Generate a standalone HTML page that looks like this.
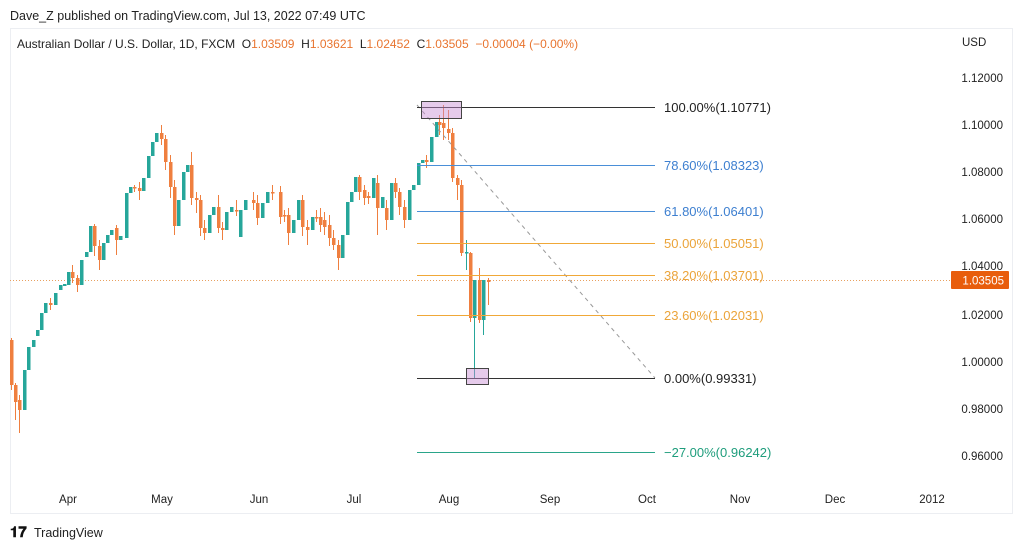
<!DOCTYPE html>
<html><head><meta charset="utf-8"><style>
body{margin:0;width:1024px;height:550px;background:#fff;overflow:hidden;font-family:"Liberation Sans","DejaVu Sans",sans-serif;}
svg{position:absolute;left:0;top:0}
</style></head><body>
<svg id="s" width="1024" height="550" xmlns="http://www.w3.org/2000/svg" font-family="Liberation Sans, DejaVu Sans, sans-serif">
<text x="10" y="20" font-size="12.5" fill="#222">Dave_Z published on TradingView.com, Jul 13, 2022 07:49 UTC</text>
<rect x="10.5" y="28.5" width="1002" height="485" fill="none" stroke="#eceef2"/>
<text x="17" y="48" font-size="12" fill="#222" xml:space="preserve">Australian Dollar / U.S. Dollar, 1D, FXCM  O<tspan fill="#e8742f">1.03509</tspan>  H<tspan fill="#e8742f">1.03621</tspan>  L<tspan fill="#e8742f">1.02452</tspan>  C<tspan fill="#e8742f">1.03505</tspan>  <tspan fill="#e8742f">−0.00004 (−0.00%)</tspan></text>
<text x="962" y="46" font-size="11.5" fill="#222">USD</text>
<g font-size="11.5" fill="#222" text-anchor="end">
<text x="1003" y="82">1.12000</text><text x="1003" y="129">1.10000</text><text x="1003" y="176">1.08000</text><text x="1003" y="223">1.06000</text><text x="1003" y="270">1.04000</text><text x="1003" y="319">1.02000</text><text x="1003" y="366">1.00000</text><text x="1003" y="413">0.98000</text><text x="1003" y="460">0.96000</text>
</g>
<g font-size="11.5" fill="#222" text-anchor="middle">
<text x="68" y="503">Apr</text><text x="162" y="503">May</text><text x="259" y="503">Jun</text><text x="354" y="503">Jul</text><text x="449" y="503">Aug</text><text x="550" y="503">Sep</text><text x="647" y="503">Oct</text><text x="740" y="503">Nov</text><text x="835" y="503">Dec</text><text x="932" y="503">2012</text>
</g>
<line x1="10" y1="280.5" x2="952" y2="280.5" stroke="#e8a060" stroke-dasharray="1,2"/>
<g id="c"></g>
<line x1="417" y1="105" x2="655" y2="378" stroke="#999" stroke-dasharray="4,4"/>
<g stroke-width="1">
<line x1="417" y1="107.5" x2="655" y2="107.5" stroke="#333"/>
<line x1="417" y1="165.5" x2="655" y2="165.5" stroke="#4a8fd8"/>
<line x1="417" y1="211.5" x2="655" y2="211.5" stroke="#4a8fd8"/>
<line x1="417" y1="243.5" x2="655" y2="243.5" stroke="#f0a838"/>
<line x1="417" y1="275.5" x2="655" y2="275.5" stroke="#f0a838"/>
<line x1="417" y1="315.5" x2="655" y2="315.5" stroke="#f0a838"/>
<line x1="417" y1="378.5" x2="655" y2="378.5" stroke="#333"/>
<line x1="417" y1="452.5" x2="655" y2="452.5" stroke="#2aa58a"/>
</g>
<rect x="421.5" y="101.5" width="40" height="17" fill="rgba(200,140,210,0.45)" stroke="#444"/>
<rect x="466.5" y="368.5" width="22" height="16" fill="rgba(200,140,210,0.45)" stroke="#444"/>
<g font-size="13">
<text x="664" y="112" fill="#222">100.00%(1.10771)</text>
<text x="664" y="170" fill="#3d7fd0">78.60%(1.08323)</text>
<text x="664" y="216" fill="#3d7fd0">61.80%(1.06401)</text>
<text x="664" y="248" fill="#eba43a">50.00%(1.05051)</text>
<text x="664" y="280" fill="#eba43a">38.20%(1.03701)</text>
<text x="664" y="320" fill="#eba43a">23.60%(1.02031)</text>
<text x="664" y="383" fill="#222">0.00%(0.99331)</text>
<text x="664" y="457" fill="#1e9d7c">−27.00%(0.96242)</text>
</g>
<rect x="951" y="271" width="58" height="18" fill="#e85d0c" rx="1"/>
<text x="1004" y="284.5" font-size="11.5" fill="#fff" text-anchor="end">1.03505</text>
<text x="10" y="537" font-size="15" font-weight="bold" fill="#111">𝟏𝟕</text>
<text x="34" y="537" font-size="12.5" fill="#222">TradingView</text>
</svg>
<script>
var d=[[11,340,385,338,390],[15,385,402,383,420],[19,400,410,395,433],[24,410,370,412,368],[28,370,347,372,345],[33,347,340,350,335],[37,336,330,340,322],[41,330,313,332,308],[45,313,303,318,298],[50,303,305,298,310],[55,305,293,310,290],[60,290,285,292,280],[64,286,284,288,282],[68,285,272,288,268],[72,272,278,265,283],[77,278,285,275,292],[81,285,260,287,255],[86,257,252,262,248],[90,252,226,255,222],[94,226,246,224,256],[99,246,260,240,270],[103,260,243,262,238],[107,243,235,246,230],[111,235,230,240,225],[116,228,240,225,255],[120,240,236,258,234],[126,238,193,240,190],[130,193,187,200,182],[134,187,188,185,192],[139,188,191,182,200],[143,191,178,200,172],[148,178,156,182,150],[152,156,142,160,136],[156,142,133,145,128],[161,133,139,125,145],[165,139,162,135,170],[170,162,187,155,198],[174,187,226,180,235],[178,226,200,228,172],[183,200,172,203,168],[187,172,165,178,158],[191,165,198,152,205],[196,198,200,192,213],[200,200,228,195,236],[204,228,233,220,240],[209,233,215,236,210],[213,215,207,220,200],[218,207,228,195,233],[222,228,230,222,240],[226,230,212,232,208],[231,212,207,215,200],[236,210,210,200,216],[240,237,210,240,205],[245,210,200,214,195],[253,200,203,192,210],[257,203,218,195,225],[262,218,203,220,198],[267,203,192,206,186],[272,192,193,185,200],[280,192,217,186,224],[284,215,215,210,222],[288,215,233,208,245],[293,233,220,236,212],[298,220,200,222,192],[302,200,227,195,236],[307,227,230,220,245],[312,230,217,235,212],[316,217,217,210,222],[320,217,225,208,232],[324,220,227,212,235],[329,225,238,215,246],[333,238,245,230,250],[338,245,258,240,270],[342,258,235,260,230],[347,235,202,240,198],[351,202,192,205,185],[355,192,177,195,170],[359,177,192,175,200],[364,190,198,185,205],[368,196,198,192,204],[373,198,178,200,170],[377,183,208,175,235],[382,208,197,212,192],[386,208,220,200,230],[391,220,183,222,178],[395,183,192,178,198],[399,192,207,188,215],[404,207,220,200,228],[409,220,190,222,185],[413,190,185,195,178],[418,185,163,190,160],[422,163,160,168,155],[426,160,162,155,168],[431,162,137,165,132],[436,137,122,140,107],[439,122,125,115,135],[443,123,128,105,140],[448,129,133,110,140],[452,133,178,128,182],[457,178,185,175,200],[461,185,253,180,256],[466,253,252,240,270],[470,253,318,252,322],[474,318,280,320,378],[479,280,320,268,323],[483,320,280,322,335],[488,280,282,278,305]];
var g=document.getElementById('c'),h='';
d.forEach(function(c){var x=c[0],o=c[1],cl=c[2],up=cl<o,col=up?'#26a69a':'#ef7f3f';var t=Math.min(o,cl),b=Math.max(o,cl);if(b-t<1.5){b=t+1.5;}
h+='<line x1="'+(x+0.5)+'" y1="'+Math.min(c[3],t)+'" x2="'+(x+0.5)+'" y2="'+Math.max(c[4],b)+'" stroke="'+col+'" stroke-width="1"/>';
h+='<rect x="'+(x-1)+'" y="'+t+'" width="3.5" height="'+(b-t)+'" fill="'+col+'"/>';});
g.innerHTML=h;
</script>
</body></html>
